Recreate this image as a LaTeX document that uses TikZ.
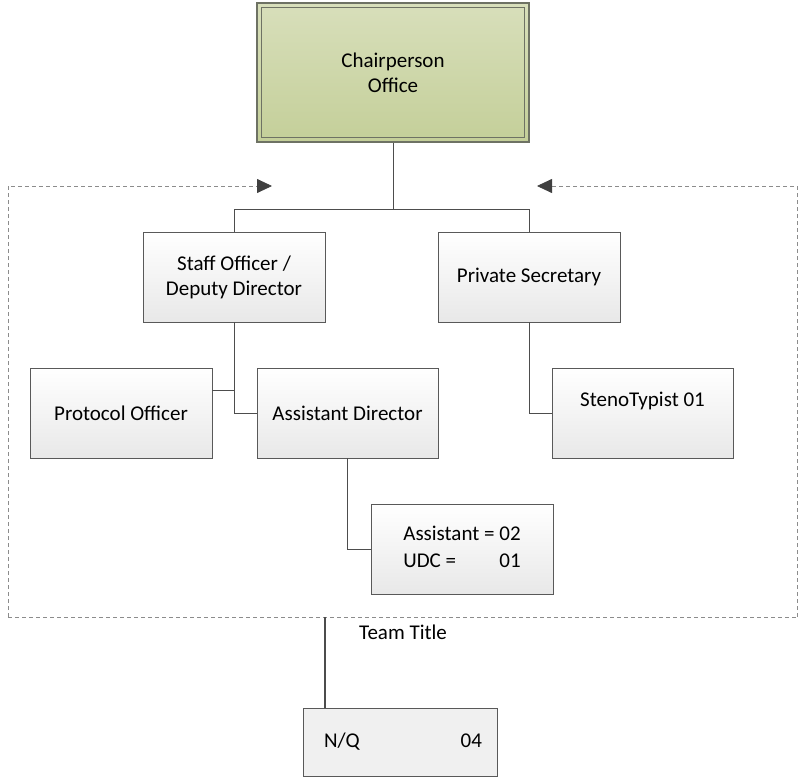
\documentclass[tikz,border=0pt]{standalone}
\usepackage{fontspec}
\setmainfont{Carlito}
\usetikzlibrary{arrows.meta,shadows}
\definecolor{boxline}{HTML}{595959}
\definecolor{connline}{HTML}{4D4D4D}
\definecolor{frameline}{HTML}{8C8C8C}
\definecolor{greentop}{HTML}{D8DFBB}
\definecolor{greenbot}{HTML}{C4CF99}
\definecolor{greenline}{HTML}{6E7264}
\begin{document}
\begin{tikzpicture}[x=1pt,y=-1pt,
  font=\fontsize{21}{25}\selectfont,
  orgbox/.style={draw=boxline,line width=0.9pt,top color=white,bottom color=black!9,
    minimum width=182pt,minimum height=90pt,inner sep=0pt,align=center,
    drop shadow={shadow xshift=1.2pt,shadow yshift=-1.2pt,fill=black!35,opacity=0.6}},
  conn/.style={draw=connline,line width=0.9pt},
  framestyle/.style={draw=frameline,line width=0.8pt,dash pattern=on 4pt off 3pt},
  tip/.style={-{Triangle[length=15pt,width=14pt,color=black!75]}}
]
\useasboundingbox (0,0) rectangle (803,778);

% dashed frame
\coordinate (fbl) at (8,617);
\coordinate (ftl) at (8,186);
\coordinate (ftip1) at (272,186);
\coordinate (fbr) at (797,617);
\coordinate (ftr) at (797,186);
\coordinate (ftip2) at (537,186);
\coordinate (fdrop) at (325,617);
\draw[framestyle] (fbl) -- (fbr);
\draw[framestyle,tip] (fbl) -- (ftl) -- (ftip1);
\draw[framestyle,tip] (fbr) -- (ftr) -- (ftip2);

% top box
\node[draw=greenline,line width=1.6pt,top color=greentop,bottom color=greenbot,
  minimum width=272pt,minimum height=139pt,inner sep=0pt,align=center]
  (chair) at (393,72.5) {Chairperson\\Office};
\draw[greenline,line width=1pt] ([shift={(5pt,-5pt)}]chair.north west) rectangle ([shift={(-5pt,5pt)}]chair.south east);

% boxes
\node[orgbox] (staff) at (234,277) {Staff Officer /\\Deputy Director};
\node[orgbox] (ps) at (529,277) {Private Secretary};
\node[orgbox] (po) at (121,413) {Protocol Officer};
\node[orgbox,minimum width=181pt] (ad) at (347.5,413) {Assistant Director};
\node[orgbox,minimum width=181pt] (steno) at (642.5,413) {StenoTypist 01\\[2pt]~};
\node[orgbox] (asst) at (462,549) {\begin{tabular}{@{}l@{\ }r@{}}Assistant = & 02\\[2pt] UDC = & 01\end{tabular}};
\node[draw=boxline,line width=0.9pt,fill=black!6,minimum width=194pt,minimum height=68pt,inner sep=0pt]
  (nq) at (400,742) {\hspace*{6pt}\makebox[158pt]{N/Q\hfill 04}};
\node (tt) at (403,632) {Team Title};

% connectors
\coordinate (bus) at (0,209);
\draw[conn] (chair.south) -- (chair.south |- bus);
\draw[conn] (staff.north) -- (staff.north |- bus) -- (ps.north |- bus) -- (ps.north);
\draw[conn] (staff.south) |- (ad.west);
\draw[conn] ([yshift=23pt]po.east) -- ([yshift=23pt]po.east -| staff.south);
\draw[conn] (ad.south) |- (asst.west);
\draw[conn] (ps.south) |- (steno.west);
\draw[draw=black!70,line width=2pt] (fdrop) -- (fdrop |- nq.north);
\end{tikzpicture}
\end{document}
